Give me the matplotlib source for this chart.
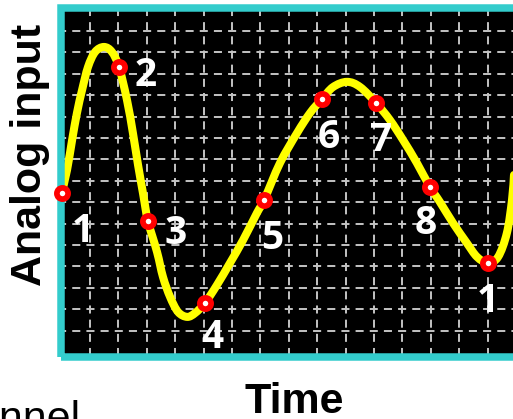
import matplotlib
matplotlib.use("Agg")
import matplotlib.pyplot as plt
from matplotlib.patches import Rectangle, PathPatch
from matplotlib.path import Path

plt.rcParams['lines.scale_dashes'] = False

# signal (time in grid columns, level in grid rows)
curve_t = [0.0, 0.19, 0.37, 0.54, 0.72, 0.93, 1.18, 1.49, 1.77, 2.02, 2.30, 2.51,
           2.69, 2.87, 3.04, 3.36, 3.57, 3.82, 4.10, 4.42, 4.70, 5.05, 5.47, 5.93,
           6.39, 6.88, 7.13, 7.69, 8.29, 8.75, 9.17, 9.56, 10.05, 10.51, 11.07,
           11.56, 12.02, 12.51, 12.97, 13.32, 13.78, 14.27, 14.63, 15.01, 15.37,
           15.68, 15.86, 15.93]
curve_v = [7.43, 8.50, 9.91, 11.17, 12.24, 13.32, 14.02, 14.25, 14.02, 13.32, 11.78, 10.23,
           8.74, 7.38, 6.12, 4.67, 3.50, 2.57, 1.87, 1.64, 1.82, 2.29, 3.13, 4.16,
           5.23, 6.50, 7.10, 8.83, 10.23, 11.17, 11.82, 12.38, 12.62, 12.38, 11.64,
           10.84, 9.91, 8.83, 7.71, 7.01, 6.03, 5.09, 4.44, 4.16, 4.44,
           5.56, 7.10, 8.27]

# sampled points
sample_t = [0.0, 2.02, 3.04, 5.05, 7.13, 9.17, 11.07, 12.97, 15.01]
sample_v = [7.43, 13.32, 6.12, 2.29, 7.10, 11.82, 11.64, 7.71, 4.16]
sample_labels = ['1', '2', '3', '4', '5', '6', '7', '8', '1']
label_offsets = [(15, -28), (19, -6), (20, -9), (5, -25), (6, -28), (5, -28), (4, -27), (-3, -26), (0, -28)]


def smooth_path(xs, ys):
    # catmull-rom through the traced points, drawn as bezier segments
    pts = list(zip(xs, ys))
    n = len(pts)
    verts = [pts[0]]
    codes = [Path.MOVETO]
    for i in range(n - 1):
        p0 = pts[max(i - 1, 0)]
        p1 = pts[i]
        p2 = pts[i + 1]
        p3 = pts[min(i + 2, n - 1)]
        c1 = (p1[0] + (p2[0] - p0[0]) / 6, p1[1] + (p2[1] - p0[1]) / 6)
        c2 = (p2[0] - (p3[0] - p1[0]) / 6, p2[1] - (p3[1] - p1[1]) / 6)
        verts += [c1, c2, p2]
        codes += [Path.CURVE4] * 3
    return Path(verts, codes)


fig = plt.figure(figsize=(5.13, 4.19), dpi=100)
ax = fig.add_axes([60.5 / 513, 62 / 419, 464 / 513, 349 / 419])
ax.set_facecolor('black')
ax.set_xlim(-0.04, 16.3)
ax.set_ylim(-0.234, 16.07)
ax.set_xticks(range(0, 17))
ax.set_yticks(range(1, 16))
ax.tick_params(length=0, labelbottom=False, labelleft=False)
ax.xaxis.grid(True, color='#c4c4c4', linestyle=(9.5, (5.8, 4.4)), linewidth=1.4)
ax.yaxis.grid(True, color='#c4c4c4', linestyle=(2.1, (5.8, 4.4)), linewidth=1.4)
ax.set_axisbelow(True)
for s in ax.spines.values():
    s.set_visible(False)

ax.add_patch(PathPatch(smooth_path(curve_t, curve_v), facecolor='none',
                       edgecolor='#ffff00', lw=5.8, capstyle='round',
                       joinstyle='round', zorder=3))

ax.add_patch(Rectangle((0, 0), 1, 1, transform=ax.transAxes, fill=False,
                       edgecolor='#33cccc', lw=5.4, joinstyle='miter',
                       clip_on=False, zorder=4))

ax.plot(sample_t, sample_v, ls='none', marker='o', ms=8.1, mfc='white',
        mec='#ff0000', mew=4.1, clip_on=False, zorder=5)

for t, v, lab, off in zip(sample_t, sample_v, sample_labels, label_offsets):
    ax.annotate(lab, (t, v), xytext=off, textcoords='offset points',
                ha='center', va='center', color='white', fontsize=28,
                fontweight='bold', family='Open Sans', zorder=6,
                annotation_clip=False)

fig.text(30 / 513, 1 - 155 / 419, 'Analog input', rotation=90, ha='center',
         va='center', fontsize=31, fontweight='bold', family='Liberation Sans')
fig.text(294 / 513, 1 - 413 / 419, 'Time', ha='center', va='baseline',
         fontsize=31, fontweight='bold', family='Liberation Sans')
fig.text(81 / 513, 1 - 431 / 419, 'Channel', ha='right', va='baseline',
         fontsize=31, family='Liberation Sans')

fig.savefig('out.png', dpi=100)
